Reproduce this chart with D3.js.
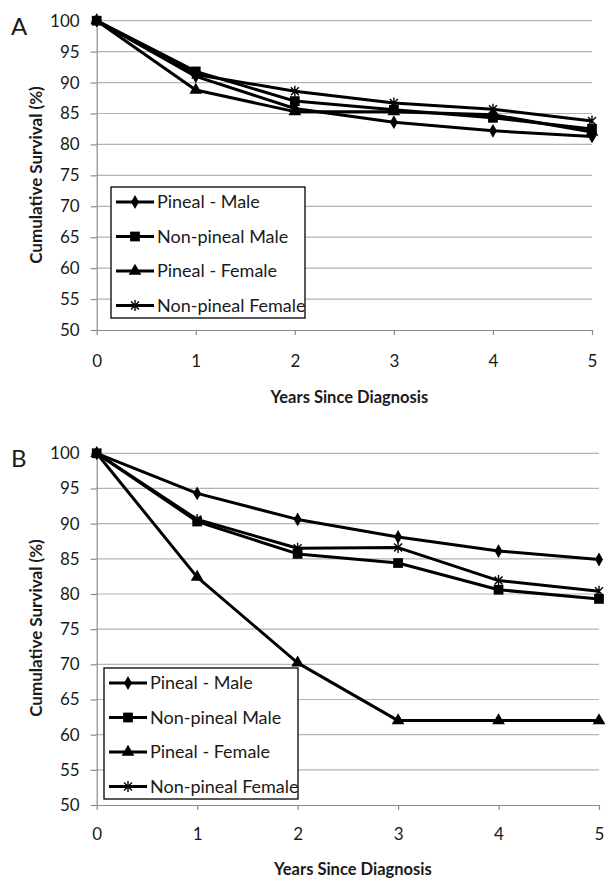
<!DOCTYPE html>
<html>
<head>
<meta charset="utf-8">
<script src="https://cdn.jsdelivr.net/npm/d3@7/dist/d3.min.js"></script>
<style>
    body { margin: 0; background: #ffffff; }
    text { font-family: Lato, "Open Sans", sans-serif; fill: #1a1a1a; }
</style>
</head>
<body>
<script>
//years on the x axis
var years = [0, 1, 2, 3, 4, 5];

//tick values for the y axis
var survivalTicks = [50, 55, 60, 65, 70, 75, 80, 85, 90, 95, 100];

//series names in legend order
var seriesNames = ['Pineal - Male', 'Non-pineal Male', 'Pineal - Female', 'Non-pineal Female'];

//panel A values (cumulative survival, %)
var aPinealMale = [100, 91.0, 85.8, 83.6, 82.2, 81.3];
var aNonPinealMale = [100, 91.8, 87.0, 85.6, 84.3, 82.5];
var aPinealFemale = [100, 88.8, 85.3, 85.3, 84.8, 82.0];
var aNonPinealFemale = [100, 91.3, 88.6, 86.7, 85.7, 83.8];

//panel B values (cumulative survival, %)
var bPinealMale = [100, 94.3, 90.6, 88.1, 86.1, 84.9];
var bNonPinealMale = [100, 90.3, 85.7, 84.4, 80.6, 79.3];
var bPinealFemale = [100, 82.4, 70.2, 62.0, 62.0, 62.0];
var bNonPinealFemale = [100, 90.6, 86.5, 86.6, 81.9, 80.4];

(function () {
    var svg = d3.select('body').append('svg')
        .attr('width', 606)
        .attr('height', 880);

    //marker drawers, one for each series
    var markers = [
        function (sel) { sel.append('path').attr('d', d3.symbol().type(d3.symbolDiamond).size(55)).attr('fill', '#000'); },
        function (sel) { sel.append('path').attr('d', d3.symbol().type(d3.symbolSquare).size(95)).attr('fill', '#000'); },
        function (sel) { sel.append('path').attr('d', d3.symbol().type(d3.symbolTriangle).size(70)).attr('fill', '#000'); },
        function (sel) {
            sel.append('path')
                .attr('d', 'M-4,-4L4,4M-4,4L4,-4M0,-5.5L0,5.5')
                .attr('fill', 'none')
                .attr('stroke', '#000')
                .attr('stroke-width', 1.4);
        }
    ];

    //draws one panel
    function drawPanel(p) {
        var g = svg.append('g'),
            x = d3.scaleLinear().domain([0, 5]).range([p.left, p.right]),
            y = d3.scaleLinear().domain([50, 100]).range([p.bottom, p.top]);

        //horizontal gridlines
        g.selectAll('line.grid')
            .data(survivalTicks.slice(1))
            .enter().append('line')
            .attr('x1', p.left).attr('x2', p.right)
            .attr('y1', function (d) { return y(d); })
            .attr('y2', function (d) { return y(d); })
            .attr('stroke', '#b4b4b4')
            .attr('stroke-width', 1.2);

        //y axis
        var yAxis = g.append('g')
            .attr('transform', 'translate(' + p.left + ',0)')
            .call(d3.axisLeft(y).tickValues(survivalTicks).tickSize(6).tickSizeOuter(0).tickPadding(11));

        //x axis
        var xAxis = g.append('g')
            .attr('transform', 'translate(0,' + p.bottom + ')')
            .call(d3.axisBottom(x).tickValues(years).tickFormat(d3.format('d'))
                .tickSize(5).tickSizeOuter(0).tickPadding(p.xPad));

        [yAxis, xAxis].forEach(function (a) {
            a.select('.domain').attr('stroke', '#8c8c8c').attr('stroke-width', 1.2);
            a.selectAll('.tick line').attr('stroke', '#8c8c8c').attr('stroke-width', 1.2);
            a.selectAll('.tick text')
                .attr('font-size', 17)
                .attr('font-family', 'Lato, sans-serif')
                .attr('fill', '#1a1a1a');
        });

        //series lines
        var line = d3.line()
            .x(function (d, i) { return x(years[i]); })
            .y(function (d) { return y(d); });

        p.series.forEach(function (s, k) {
            g.append('path')
                .datum(s)
                .attr('d', line)
                .attr('fill', 'none')
                .attr('stroke', '#000')
                .attr('stroke-width', 3)
                .attr('stroke-linejoin', 'round');

            s.forEach(function (v, i) {
                var m = g.append('g').attr('transform', 'translate(' + x(years[i]) + ',' + y(v) + ')');
                markers[k](m);
            });
        });

        //panel letter
        g.append('text')
            .attr('x', 11)
            .attr('y', p.top + 14)
            .attr('font-size', 24)
            .text(p.letter);

        //y axis title
        g.append('text')
            .attr('transform', 'translate(' + 42 + ',' + p.yTitle + ') rotate(-90)')
            .attr('text-anchor', 'middle')
            .attr('font-size', 17)
            .attr('font-weight', 'bold')
            .text('Cumulative Survival (%)');

        //x axis title
        g.append('text')
            .attr('x', (p.left + p.right) / 2 + 5)
            .attr('y', p.xTitle)
            .attr('text-anchor', 'middle')
            .attr('font-size', 16.5)
            .attr('font-weight', 'bold')
            .text('Years Since Diagnosis');

        //legend
        var lg = g.append('g').attr('transform', 'translate(' + p.legend[0] + ',' + p.legend[1] + ')');
        lg.append('rect')
            .attr('width', 194)
            .attr('height', 131)
            .attr('fill', '#fff')
            .attr('stroke', '#000')
            .attr('stroke-width', 1.3);

        seriesNames.forEach(function (name, k) {
            var row = lg.append('g').attr('transform', 'translate(0,' + (15 + k * 34.5) + ')');
            row.append('line')
                .attr('x1', 5).attr('x2', 43)
                .attr('stroke', '#000')
                .attr('stroke-width', 3);
            markers[k](row.append('g').attr('transform', 'translate(24,0)'));
            row.append('text')
                .attr('x', 46)
                .attr('dy', '0.35em')
                .attr('font-size', 18)
                .text(name);
        });
    }

    //panel A
    drawPanel({
        letter: 'A',
        left: 96.7, right: 592, top: 20.7, bottom: 330,
        xPad: 20, xTitle: 403, yTitle: 175,
        legend: [111, 187],
        series: [aPinealMale, aNonPinealMale, aPinealFemale, aNonPinealFemale]
    });

    //panel B
    drawPanel({
        letter: 'B',
        left: 96.7, right: 599, top: 453.3, bottom: 805,
        xPad: 18, xTitle: 875, yTitle: 628,
        legend: [104, 668],
        series: [bPinealMale, bNonPinealMale, bPinealFemale, bNonPinealFemale]
    });
})();
</script>
</body>
</html>
